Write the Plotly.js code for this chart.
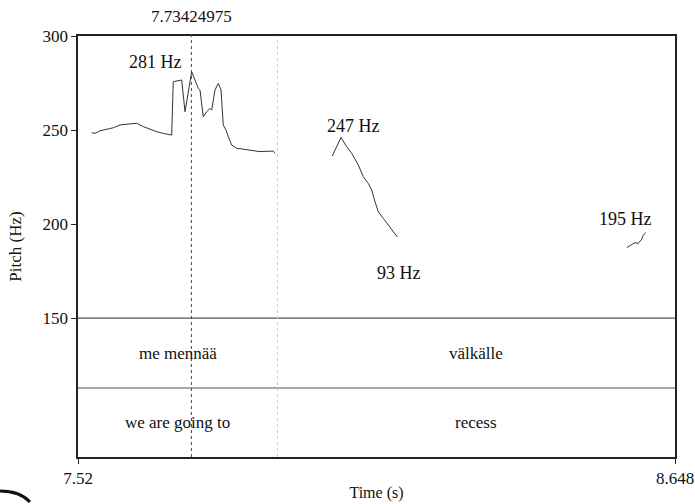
<!DOCTYPE html>
<html>
<head>
<meta charset="utf-8">
<script src="https://cdn.plot.ly/plotly-3.0.1.min.js"></script>
<style>html,body{margin:0;padding:0;background:#fff;}#chart{width:695px;height:504px;}</style>
</head>
<body>
<div id="chart"></div>
<script>
// Pitch contour segments (time in s, pitch in Hz)
const seg1Time = [7.5459,7.5521,7.5616,7.5742,7.5867,7.5994,7.6120,7.6215,7.6309,7.6434,7.6560,7.6687,7.6812,7.6938,7.6970,7.7000,7.7070,7.7159,7.7222,7.7284,7.7348,7.7410,7.7473,7.7505,7.7567,7.7632,7.7694,7.7726,7.7788,7.7851,7.7902,7.7945,7.7996,7.8040,7.8104,7.8198,7.8317,7.8450,7.8639,7.8890,7.8922];
const seg1Hz   = [248.6,248.2,249.6,250.4,251.2,252.7,253.2,253.6,253.6,251.8,250.4,249.1,248.2,247.3,247.3,275.7,276.2,276.6,259.7,269.5,281.0,276.6,272.2,271.3,257.0,259.7,261.5,260.6,271.3,274.8,271.3,252.7,250.0,246.4,242.0,240.3,239.8,239.4,238.5,238.8,237.6];
const seg2Time = [8.0005,8.0169,8.0277,8.0371,8.0496,8.0590,8.0685,8.0749,8.0811,8.0874,8.0968,8.1063,8.1157,8.1233];
const seg2Hz   = [236.2,246.1,241.1,237.6,231.4,225.2,221.6,218.1,211.9,206.5,203.0,199.5,195.9,193.2];
const seg3Time = [8.5567,8.5661,8.5723,8.5786,8.5850,8.5880,8.5931];
const seg3Hz   = [187.4,189.2,190.1,189.7,191.9,194.1,195.4];

// Labels of pitch values
const peakLabels = ["281 Hz","247 Hz","93 Hz","195 Hz"];
const peakLabelTime = [7.6664,8.0396,8.1259,8.5544];
const peakLabelHz = [286.2,252.1,173.9,202.7];

// Text tiers
const tierBounds = [7.52, 7.897, 8.648];
const tier1Words = ["me mennää","välkälle"];
const tier2Words = ["we are going to","recess"];
const tierLineHz = [150, 112.8];
const tierTextHz = [131.4, 94.4];

const cursorTime = 7.73424975;
const xRange = [7.52, 8.648];
const yRange = [76.1, 300];
const yTicks = [150,200,250,300];

const font = "Liberation Serif";
const lineStyle = {color:'#333', width:1};

const traces = [
  {x:seg1Time, y:seg1Hz, mode:'lines', line:lineStyle, hoverinfo:'skip'},
  {x:seg2Time, y:seg2Hz, mode:'lines', line:lineStyle, hoverinfo:'skip'},
  {x:seg3Time, y:seg3Hz, mode:'lines', line:lineStyle, hoverinfo:'skip'}
];

const annotations = [];
peakLabels.forEach((t,i)=>annotations.push({x:peakLabelTime[i], y:peakLabelHz[i], text:t, showarrow:false, xanchor:'center', yanchor:'middle', font:{family:font,size:18,color:'#111'}}));
for (let i=0;i<tier1Words.length;i++){
  const xc=(tierBounds[i]+tierBounds[i+1])/2;
  annotations.push({x:xc,y:tierTextHz[0],text:tier1Words[i],showarrow:false,font:{family:font,size:17,color:'#111'}});
  annotations.push({x:xc,y:tierTextHz[1],text:tier2Words[i],showarrow:false,font:{family:font,size:17,color:'#111'}});
}
annotations.push({x:cursorTime, xref:'x', y:1.02, yref:'paper', yanchor:'bottom', text:String(cursorTime), showarrow:false, font:{family:font,size:17,color:'#111'}});

const shapes = [];
tierLineHz.forEach(h=>shapes.push({type:'line', xref:'x', yref:'y', x0:xRange[0], x1:xRange[1], y0:h, y1:h, line:{color:'#555', width:1.2}}));
shapes.push({type:'line', xref:'x', yref:'paper', x0:cursorTime, x1:cursorTime, y0:0, y1:1.012, line:{color:'#444', width:1, dash:'dot'}});
shapes.push({type:'line', xref:'x', yref:'paper', x0:tierBounds[1], x1:tierBounds[1], y0:0, y1:1, line:{color:'#ccc', width:1, dash:'dot'}});
// partial logo stroke at the lower-left corner of the image
shapes.push({type:'path', xref:'paper', yref:'paper', path:'M -0.1307 -0.0808 Q -0.0972 -0.0808 -0.0804 -0.1069', line:{color:'#111', width:3}});

const layout = {
  width:695, height:504,
  margin:{l:78, r:20, t:36, b:47, pad:0},
  paper_bgcolor:'#fff', plot_bgcolor:'#fff',
  showlegend:false,
  font:{family:font, size:17, color:'#111'},
  xaxis:{range:xRange, tickvals:[7.52,8.648], ticktext:['7.52','8.648'], ticks:'outside', ticklen:5, tickcolor:'#222',
    showline:true, mirror:true, linecolor:'#222', linewidth:1.6, showgrid:false, zeroline:false,
    tickfont:{family:font,size:17,color:'#111'},
    title:{text:'Time (s)', font:{family:font,size:16,color:'#111'}, standoff:0}},
  yaxis:{range:yRange, tickvals:yTicks, ticktext:yTicks.map(String), ticks:'outside', ticklen:5, tickcolor:'#222',
    showline:true, mirror:true, linecolor:'#222', linewidth:1.6, showgrid:false, zeroline:false,
    tickfont:{family:font,size:17,color:'#111'},
    title:{text:'Pitch (Hz)', font:{family:font,size:17,color:'#111'}, standoff:16}},
  annotations:annotations,
  shapes:shapes
};

Plotly.newPlot('chart', traces, layout, {displayModeBar:false, staticPlot:true});
</script>
</body>
</html>
